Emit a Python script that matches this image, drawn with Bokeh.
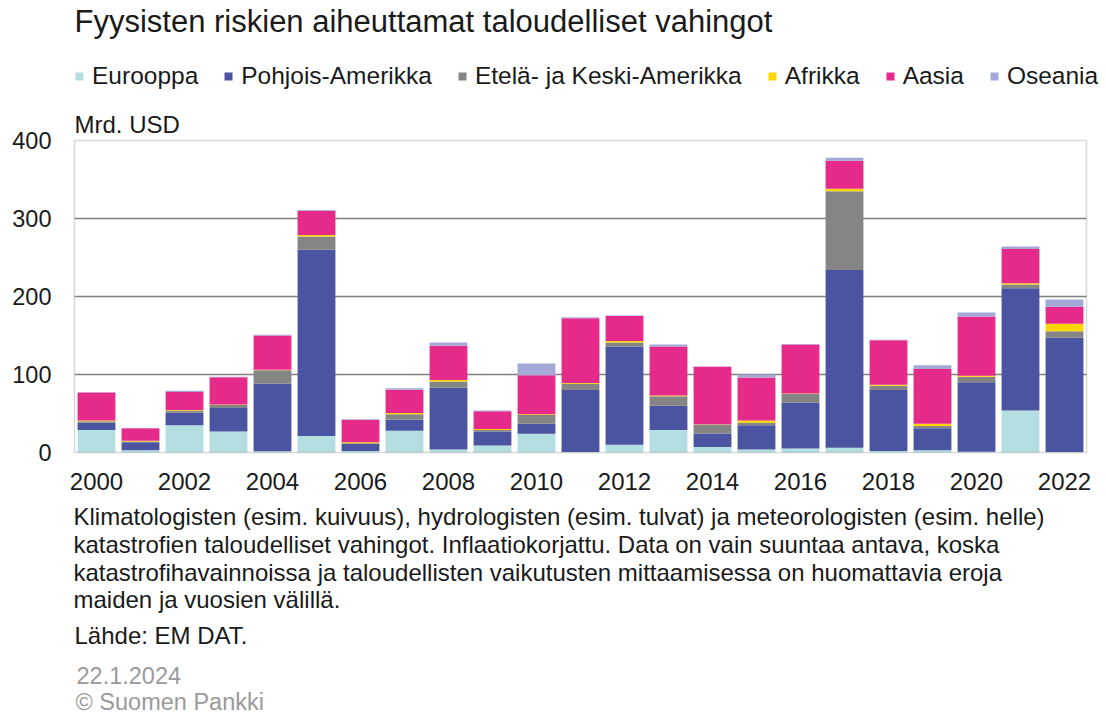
from bokeh.plotting import figure
from bokeh.layouts import column
from bokeh.models import (ColumnDataSource, Legend, LegendItem, Label, FixedTicker,
                          Range1d, BoxAnnotation)
from bokeh.embed import file_html
from bokeh.resources import INLINE

# ---------------- data (Mrd. USD) ----------------
years = list(range(2000, 2023))
eurooppa = [29, 3, 35, 27, 1.5, 21, 2, 28, 4, 9, 24, 0.5, 10, 29, 7, 4, 5, 6, 2, 3, 1, 54, 0.5]
pohjois_amerikka = [9, 10, 16, 30, 87, 239, 9, 14, 79, 18, 13, 79.5, 126, 31, 17.5, 31, 59, 228, 78, 28, 89, 156.5, 146.5]
etela_keski_amerikka = [2, 1, 3, 4, 17, 17, 1, 7, 8, 2, 11, 8, 5, 12, 11.5, 3, 11, 101, 5.5, 3, 7, 5, 8.5]
afrikka = [1, 1, 0.5, 0.5, 0.5, 2, 1, 1.5, 2, 1, 1, 1, 2, 1, 0.3, 3, 0.5, 3, 1.5, 3, 1.5, 1.5, 9.5]
aasia = [36, 16, 23, 35, 44, 31, 29, 30, 44, 23, 50, 83, 32, 63, 73.5, 55, 63, 36, 57, 70, 76, 44, 22]
oseania = [0.3, 0.3, 1.7, 0.5, 1, 1, 0.5, 2, 4, 1, 15, 1.5, 0.5, 2.5, 0.3, 4, 0.5, 4, 0.5, 5, 5, 3, 9]

series_keys = ["eu", "na", "sa", "af", "as", "oc"]
series_names = ["Eurooppa", "Pohjois-Amerikka", "Etelä- ja Keski-Amerikka", "Afrikka", "Aasia", "Oseania"]
series_colors = ["#b3dfe1", "#4a54a0", "#858585", "#ffd500", "#e62a89", "#a3a8d6"]

y_ticks = [0, 100, 200, 300, 400]
grid_ticks = [100, 200, 300]
x_ticks = list(range(2000, 2023, 2))

title_text = "Fyysisten riskien aiheuttamat taloudelliset vahingot"
unit_text = "Mrd. USD"
note_lines = [
    "Klimatologisten (esim. kuivuus), hydrologisten (esim. tulvat) ja meteorologisten (esim. helle)",
    "katastrofien taloudelliset vahingot. Inflaatiokorjattu. Data on vain suuntaa antava, koska",
    "katastrofihavainnoissa ja taloudellisten vaikutusten mittaamisessa on huomattavia eroja",
    "maiden ja vuosien välillä.",
]
source_text = "Lähde: EM DAT."
date_text = "22.1.2024"
copyright_text = "© Suomen Pankki"

# ---------------- layout constants (page pixels) ----------------
FONT = "Liberation Sans"
TEXT = "#1a1a1a"
GREY_TEXT = "#9a9a9a"
LINE_GREY = "#808080"
W = 1100
BL = 72                      # left border (y tick labels)
FRAME_BOTTOM = 454           # main frame spans page y 0..454
MAIN_BB = 42                 # x tick labels
MAIN_H = FRAME_BOTTOM + MAIN_BB
BOT_H = 713 - MAIN_H
ZERO_Y, TOP_Y = 452, 140     # page y of value 0 and 400
PX_PER_UNIT = (ZERO_Y - TOP_Y) / 400.0
PX_PER_YEAR = 44.0

x_start = years[0] - 0.5 - 2 / PX_PER_YEAR
x_end = x_start + (W - BL) / PX_PER_YEAR
y_start = -(FRAME_BOTTOM - ZERO_Y) / PX_PER_UNIT
y_end = y_start + FRAME_BOTTOM / PX_PER_UNIT


def xdat(page_x):
    return x_start + (page_x - BL) / PX_PER_YEAR


def ydat(page_y):
    return (ZERO_Y - page_y) / PX_PER_UNIT


def text_label(fig, txt, x, y, size, color=TEXT):
    fig.add_layout(Label(x=x, y=y, text=txt, text_font=FONT, text_font_size=size,
                         text_color=color, text_baseline="alphabetic", text_align="left"))


# ---------------- main chart (with header inside its frame) ----------------
source = ColumnDataSource(dict(year=years, eu=eurooppa, na=pohjois_amerikka,
                               sa=etela_keski_amerikka, af=afrikka, **{"as": aasia}, oc=oseania))

p = figure(width=W, height=MAIN_H, output_backend="svg", toolbar_location=None, title=None,
           x_range=Range1d(x_start, x_end), y_range=Range1d(y_start, y_end),
           min_border_left=BL, min_border_right=0, min_border_top=0, min_border_bottom=MAIN_BB)
p.outline_line_color = None
p.grid.grid_line_color = None

box_left, box_right = years[0] - 0.5, years[-1] + 0.5
p.segment(x0=[box_left] * len(grid_ticks), x1=[box_right] * len(grid_ticks),
          y0=grid_ticks, y1=grid_ticks, line_color=LINE_GREY, line_width=1.5)

renderers = p.vbar_stack(series_keys, x="year", width=0.86, color=series_colors,
                         line_color=None, source=source)

p.add_layout(BoxAnnotation(left=box_left, right=box_right, bottom=y_ticks[0], top=y_ticks[-1],
                           fill_alpha=0, line_color=LINE_GREY, line_width=1.5))

p.yaxis.ticker = FixedTicker(ticks=y_ticks)
p.xaxis.ticker = FixedTicker(ticks=x_ticks)
for ax in (p.xaxis, p.yaxis):
    ax.axis_line_color = None
    ax.major_tick_line_color = None
    ax.minor_tick_line_color = None
    ax.major_tick_in = 0
    ax.major_tick_out = 0
    ax.major_label_text_font = FONT
    ax.major_label_text_color = TEXT
p.yaxis.major_label_text_font_size = "23.5px"
p.yaxis.major_label_standoff = 21
p.xaxis.major_label_text_font_size = "24px"
p.xaxis.major_label_standoff = 18

legend = Legend(items=[LegendItem(label=n, renderers=[r]) for n, r in zip(series_names, renderers)],
                orientation="horizontal", location=(74 - BL, FRAME_BOTTOM - 90),
                padding=0, margin=0, spacing=25, label_standoff=8,
                glyph_width=10, glyph_height=10,
                label_text_font=FONT, label_text_font_size="24.5px", label_text_color=TEXT,
                border_line_alpha=0, background_fill_alpha=0)
p.add_layout(legend)

text_label(p, title_text, xdat(74), ydat(21), "31px")
text_label(p, unit_text, xdat(74), ydat(124), "24px")

# ---------------- footer ----------------
p_bot = figure(width=W, height=BOT_H, output_backend="svg", toolbar_location=None, title=None,
               x_range=Range1d(BL, W), y_range=Range1d(MAIN_H + BOT_H, MAIN_H),
               x_axis_location=None, y_axis_location=None,
               min_border_left=BL, min_border_right=0, min_border_top=0, min_border_bottom=0)
p_bot.grid.grid_line_color = None
p_bot.outline_line_color = None

for i, line in enumerate(note_lines):
    text_label(p_bot, line, 73, 516 + i * 27.8, "24px")
text_label(p_bot, source_text, 74, 635, "24px")
text_label(p_bot, date_text, 76, 675, "23.5px", GREY_TEXT)
text_label(p_bot, copyright_text, 75, 701, "23.5px", GREY_TEXT)

layout = column(p, p_bot, spacing=0)
open("out.html", "w").write(file_html(layout, INLINE))
